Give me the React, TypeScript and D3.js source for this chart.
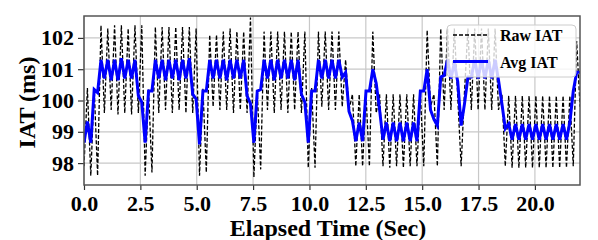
import React, { useEffect, useRef } from 'react';
import * as d3 from 'd3';

// seconds between consecutive IAT samples
const SAMPLE_STEP = 0.1507;

// Raw inter-arrival time per sample (ms)
const rawIat = [
  97.9, 100.4, 97.6, 100.4, 97.6, 102.4, 99.6, 102.3, 99.7, 102.4,
  99.55, 102.4, 99.6, 102.3, 99.55, 102.4, 99.6, 102.4, 97.6, 100.35,
  97.7, 102.35, 99.6, 102.35, 99.7, 102.35, 99.6, 102.35, 99.7, 102.35,
  99.6, 102.35, 99.6, 102.3, 97.6, 100.4, 97.7, 102.1, 99.8, 102.1,
  99.7, 102.2, 99.7, 102.3, 99.6, 102.2, 99.7, 102.2, 99.6, 102.65,
  97.55, 100.3, 97.8, 102.2, 99.7, 102.2, 99.6, 102.2, 99.7, 102.2,
  99.6, 102.2, 99.7, 102.2, 99.6, 102.2, 97.85, 100.4, 97.85, 102.2,
  99.8, 102.2, 99.7, 102.2, 99.7, 102.2, 99.8, 101.3, 99.7, 100.2,
  97.9, 100.2, 97.9, 100.2, 97.9, 102.2, 99.6, 100.2, 97.9, 100.2,
  97.85, 100.2, 97.9, 100.2, 97.85, 100.2, 97.9, 100.2, 97.9, 100.2,
  97.9, 102.25, 99.8, 100.2, 97.9, 102.3, 99.7, 102.3, 99.7, 102.3,
  100.1, 97.9, 100.3, 102.3, 99.7, 102.3, 99.7, 102.3, 99.7, 102.3,
  99.7, 102.3, 99.7, 100.2, 97.9, 100.15, 97.85, 100.15, 97.85, 100.15,
  97.85, 100.15, 97.85, 100.15, 97.85, 100.15, 97.85, 100.15, 97.85, 100.15,
  97.85, 100.15, 97.85, 100.15, 97.9, 101.9, 99.8,
];

// Averaged inter-arrival time per sample (ms)
const avgIat = [
  98.65, 99.33, 98.65, 100.35, 100.25, 101.3, 100.7, 101.3, 100.65, 101.3,
  100.65, 101.35, 100.7, 101.3, 100.7, 101.3, 100.15, 99.95, 98.65, 100.3,
  100.3, 101.3, 100.7, 101.3, 100.65, 101.3, 100.7, 101.3, 100.65, 101.3,
  100.7, 101.35, 100.2, 100.05, 98.6, 100.3, 100.3, 101.3, 100.7, 101.3,
  100.7, 101.3, 100.65, 101.3, 100.7, 101.3, 100.7, 101.3, 100.15, 99.9,
  98.65, 100.3, 100.35, 101.3, 100.7, 101.3, 100.65, 101.3, 100.7, 101.3,
  100.7, 101.3, 100.65, 101.3, 100.2, 99.95, 98.65, 100.3, 100.3, 101.3,
  100.7, 101.3, 100.7, 101.3, 100.7, 101.3, 100.75, 100.9, 99.65, 99.35,
  98.7, 99.3, 98.7, 100.3, 100.3, 101.0, 100.55, 99.7, 98.75, 99.3,
  98.7, 99.3, 98.7, 99.3, 98.7, 99.3, 98.7, 99.3, 98.7, 100.3,
  100.3, 101.0, 99.7, 99.4, 99.2, 100.75, 100.8, 101.3, 100.7, 101.2,
  100.6, 99.2, 99.9, 100.75, 100.75, 101.3, 100.7, 101.3, 100.7, 101.3,
  100.7, 101.3, 100.65, 99.9, 99.1, 99.25, 98.75, 99.25, 98.75, 99.25,
  98.75, 99.25, 98.75, 99.25, 98.75, 99.25, 98.75, 99.25, 98.75, 99.25,
  98.75, 99.25, 98.75, 99.3, 100.3, 100.9, 100.9,
];

const xTicks = [0, 2.5, 5, 7.5, 10, 12.5, 15, 17.5, 20];
const yTicks = [98, 99, 100, 101, 102];
const seriesNames = ['Raw IAT', 'Avg IAT'];

const FONT = '"Liberation Serif", "Times New Roman", serif';

export default function App() {
  const svgRef = useRef<SVGSVGElement>(null);

  useEffect(() => {
    const svg = d3.select(svgRef.current);
    svg.selectAll('*').remove();

    const margin = { top: 16, right: 18, bottom: 55, left: 84 };
    const width = 598 - margin.left - margin.right;
    const height = 240 - margin.top - margin.bottom;

    const g = svg.append('g').attr('transform', `translate(${margin.left},${margin.top})`);

    const x = d3.scaleLinear().domain([0, 22]).range([0, width]);
    const y = d3.scaleLinear().domain([97.3, 102.7]).range([height, 0]);

    // grid
    g.append('g')
      .selectAll('line')
      .data(xTicks)
      .join('line')
      .attr('x1', d => x(d))
      .attr('x2', d => x(d))
      .attr('y1', 0)
      .attr('y2', height)
      .attr('stroke', '#c8c8c8')
      .attr('stroke-width', 1.2);
    g.append('g')
      .selectAll('line')
      .data(yTicks)
      .join('line')
      .attr('x1', 0)
      .attr('x2', width)
      .attr('y1', d => y(d))
      .attr('y2', d => y(d))
      .attr('stroke', '#c8c8c8')
      .attr('stroke-width', 1.2);

    g.append('clipPath')
      .attr('id', 'plot-clip')
      .append('rect')
      .attr('width', width)
      .attr('height', height);

    const line = d3
      .line<number>()
      .x((_, i) => x(i * SAMPLE_STEP))
      .y(d => y(d));

    const plot = g.append('g').attr('clip-path', 'url(#plot-clip)');
    plot
      .append('path')
      .datum(rawIat)
      .attr('d', line)
      .attr('fill', 'none')
      .attr('stroke', '#000')
      .attr('stroke-width', 1.3)
      .attr('stroke-dasharray', '4,2');
    plot
      .append('path')
      .datum(avgIat)
      .attr('d', line)
      .attr('fill', 'none')
      .attr('stroke', '#0000ff')
      .attr('stroke-width', 3)
      .attr('stroke-linejoin', 'miter');

    // axes
    const xAxis = g
      .append('g')
      .attr('transform', `translate(0,${height})`)
      .call(d3.axisBottom(x).tickValues(xTicks).tickFormat(d3.format('.1f')).tickSize(5).tickPadding(5));
    const yAxis = g
      .append('g')
      .call(d3.axisLeft(y).tickValues(yTicks).tickFormat(d3.format('d')).tickSize(6).tickPadding(4));

    [xAxis, yAxis].forEach(ax => {
      ax.select('.domain').remove();
      ax.selectAll('line').attr('stroke', '#333').attr('stroke-width', 1.2);
      ax.selectAll('text')
        .attr('fill', '#000')
        .style('font-family', FONT)
        .style('font-weight', 'bold')
        .style('font-size', '22px');
    });

    // frame
    g.append('rect')
      .attr('width', width)
      .attr('height', height)
      .attr('fill', 'none')
      .attr('stroke', '#555')
      .attr('stroke-width', 1.5);

    // axis titles
    svg
      .append('text')
      .attr('x', margin.left + width / 2 - 4)
      .attr('y', 236)
      .attr('text-anchor', 'middle')
      .style('font-family', FONT)
      .style('font-weight', 'bold')
      .style('font-size', '24px')
      .text('Elapsed Time (Sec)');
    svg
      .append('text')
      .attr('transform', `translate(35,${margin.top + height / 2 + 2}) rotate(-90)`)
      .attr('text-anchor', 'middle')
      .style('font-family', FONT)
      .style('font-weight', 'bold')
      .style('font-size', '24px')
      .text('IAT (ms)');

    // legend
    const legend = svg.append('g').attr('transform', 'translate(447,25)');
    legend
      .append('rect')
      .attr('width', 129)
      .attr('height', 52)
      .attr('rx', 4)
      .attr('fill', '#fff')
      .attr('fill-opacity', 0.8)
      .attr('stroke', '#ccc')
      .attr('stroke-width', 1);
    seriesNames.forEach((name, i) => {
      const ly = 10 + i * 26.5;
      legend
        .append('line')
        .attr('x1', 6)
        .attr('x2', 41)
        .attr('y1', ly)
        .attr('y2', ly)
        .attr('stroke', i === 0 ? '#000' : '#0000ff')
        .attr('stroke-width', i === 0 ? 1.3 : 3)
        .attr('stroke-dasharray', i === 0 ? '4,2' : null);
      legend
        .append('text')
        .attr('x', 53)
        .attr('y', ly + 6)
        .style('font-family', FONT)
        .style('font-weight', 'bold')
        .style('font-size', '16px')
        .text(name);
    });
  }, []);

  return (
    <svg
      ref={svgRef}
      width={598}
      height={240}
      style={{ position: 'absolute', left: 0, top: 0, background: '#fff' }}
    />
  );
}
